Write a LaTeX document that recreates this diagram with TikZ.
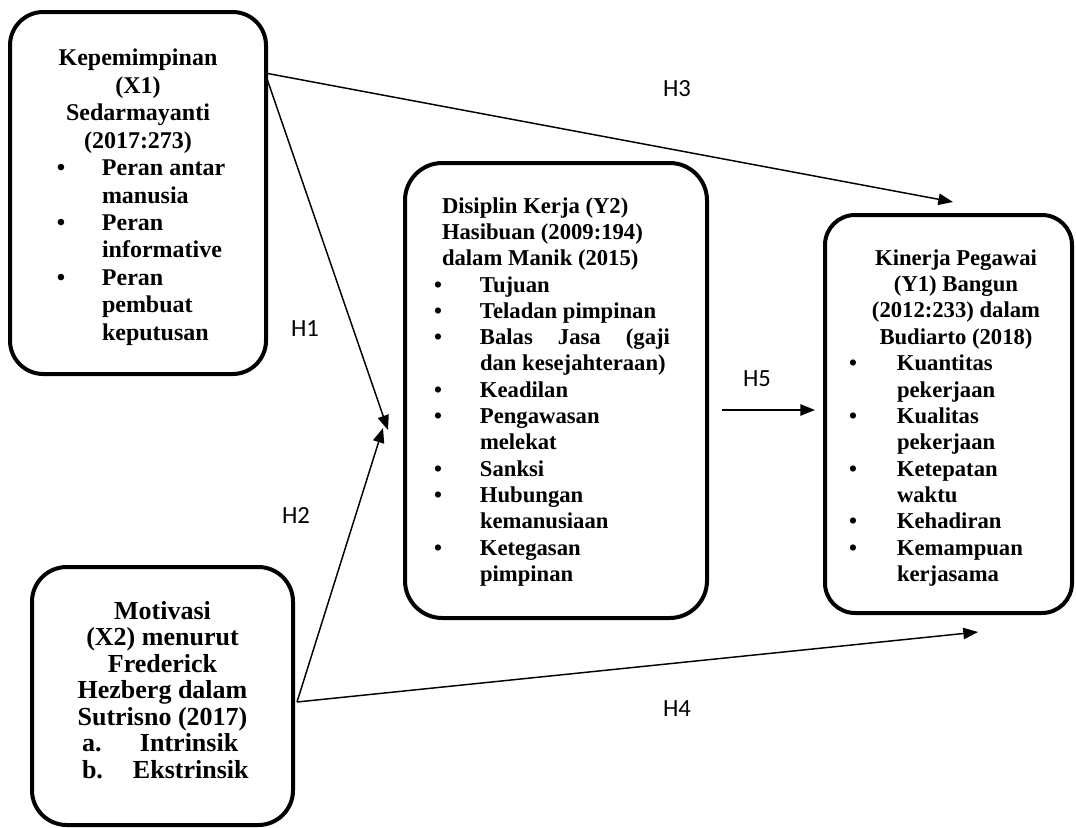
\documentclass[tikz,border=0pt]{standalone}
\usepackage{fontspec}
\setmainfont{Liberation Serif}
\newfontfamily\hfont{Carlito}
\usetikzlibrary{arrows.meta}
\newlength\bw
\newlength\bpos
\newlength\tpos
\newlength\hpos
\newcommand\hd[1]{\makebox[\bw][c]{#1}\par}
\newcommand\lh[1]{\makebox[\bw][l]{\hspace*{\hpos}#1}\par}
\newcommand\bl[1]{\makebox[\bw][l]{\hspace*{\bpos}\makebox[0pt]{\textbullet}\hspace*{\dimexpr\tpos-\bpos\relax}#1}\par}
\newcommand\cl[1]{\makebox[\bw][l]{\hspace*{\tpos}#1}\par}
\tikzset{
  box/.style={draw, line width=3pt, inner sep=0pt, outer sep=0pt},
  txt/.style={anchor=base west, inner sep=0pt, outer sep=0pt, font=\bfseries},
  hlab/.style={inner sep=0pt, font=\hfont\fontsize{18.5}{20}\selectfont},
  conn/.style={line width=1.1pt, -{Triangle[length=11pt,width=8.5pt]}}
}
\begin{document}
\begin{tikzpicture}[x=0.75pt,y=-0.75pt]
\useasboundingbox (0,0) rectangle (1076,828);
% boxes
\node[box, rounded corners=25pt, minimum width=192pt, minimum height=271.5pt] (x1) at (138,193) {};
\node[box, rounded corners=28pt, minimum width=226.5pt, minimum height=341.25pt] (y2) at (556,390.5) {};
\node[box, rounded corners=22.5pt, minimum width=185.25pt, minimum height=298.5pt] (y1) at (948.5,414) {};
\node[box, rounded corners=26pt, minimum width=195.75pt, minimum height=193.5pt] (x2) at (162.5,696) {};
% texts
\node[txt] (x1t) at (22,65.7) {\setlength\bw{174pt}\setlength\bpos{29.25pt}\setlength\tpos{60pt}%
\parbox[t]{\bw}{\fontsize{18}{20.6}\selectfont
\hd{Kepemimpinan}\hd{(X1)}\hd{Sedarmayanti}\hd{(2017:273)}%
\bl{Peran antar}\cl{manusia}\bl{Peran}\cl{informative}\bl{Peran}\cl{pembuat}\cl{keputusan}}};
\node[txt] (y2t) at (405,213) {\setlength\bw{225pt}\setlength\hpos{27.75pt}\setlength\bpos{24.75pt}\setlength\tpos{56.25pt}%
\parbox[t]{\bw}{\fontsize{17}{19.75}\selectfont
\lh{Disiplin Kerja (Y2)}\lh{Hasibuan (2009:194)}\lh{dalam Manik (2015)}%
\bl{Tujuan}\bl{Teladan pimpinan}\bl{\makebox[142.5pt][s]{Balas Jasa (gaji}}\cl{dan kesejahteraan)}%
\bl{Keadilan}\bl{Pengawasan}\cl{melekat}\bl{Sanksi}\bl{Hubungan}\cl{kemanusiaan}\bl{Ketegasan}\cl{pimpinan}}};
\node[txt] (y1t) at (825,265) {\setlength\bw{196.5pt}\setlength\bpos{21pt}\setlength\tpos{54pt}%
\parbox[t]{\bw}{\fontsize{17}{19.8}\selectfont
\hd{Kinerja Pegawai}\hd{(Y1) Bangun}\hd{(2012:233) dalam}\hd{Budiarto (2018)}%
\bl{Kuantitas}\cl{pekerjaan}\bl{Kualitas}\cl{pekerjaan}\bl{Ketepatan}\cl{waktu}\bl{Kehadiran}\bl{Kemampuan}\cl{kerjasama}}};
\node[txt] (x2t) at (42,619) {\setlength\bw{180.75pt}%
\parbox[t]{\bw}{\fontsize{19.5}{19.9}\selectfont
\hd{Motivasi}\hd{(X2) menurut}\hd{Frederick}\hd{Hezberg dalam}\hd{Sutrisno (2017)}%
\makebox[\bw][l]{\hspace*{30pt}\makebox[43.5pt][l]{a.}Intrinsik}\par
\makebox[\bw][l]{\hspace*{30pt}\makebox[38.25pt][l]{b.}Ekstrinsik}\par}};
% connector ends
\coordinate (p1) at (265,73);
\coordinate (p2) at (297,702);
\coordinate (h3e) at (953,202);
\coordinate (h1e) at (388,430);
\coordinate (h2e) at (383,428);
\coordinate (h4e) at (978,632);
\coordinate (h5s) at (722,410);
\coordinate (h5e) at (815,410);
\draw[conn] (p1) -- (h3e);
\draw[conn] (p1) -- (h1e);
\draw[conn] (p2) -- (h2e);
\draw[conn] (p2) -- (h4e);
\draw[conn] (h5s) -- (h5e);
% labels
\node[hlab] (l3) at (677,89) {H3};
\node[hlab] (l1) at (305,329) {H1};
\node[hlab] (l2) at (296,515) {H2};
\node[hlab] (l5) at (757,379) {H5};
\node[hlab] (l4) at (677,709) {H4};
\end{tikzpicture}
\end{document}
